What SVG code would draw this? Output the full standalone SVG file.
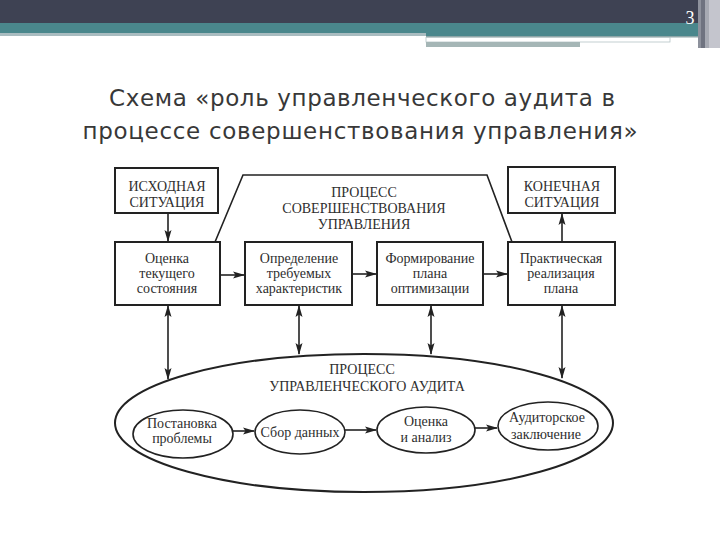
<svg xmlns="http://www.w3.org/2000/svg" width="720" height="540" viewBox="0 0 720 540">
<style>
.box{fill:none;stroke:#222;stroke-width:2}
.ln{fill:none;stroke:#222;stroke-width:1.6}
.cap{font-family:"Liberation Serif",serif;font-size:14px;fill:#2e2e2e;text-anchor:middle}
.txt{font-family:"Liberation Serif",serif;font-size:14px;fill:#2e2e2e;text-anchor:middle}
.el{font-family:"Liberation Serif",serif;font-size:14px;fill:#2e2e2e;text-anchor:middle}
.ttl{font-family:"DejaVu Sans",sans-serif;font-size:23px;fill:#383838;text-anchor:middle}
</style>
<defs>
<marker id="ah" viewBox="0 0 12 8" refX="11" refY="4" markerWidth="12" markerHeight="8" markerUnits="userSpaceOnUse" orient="auto-start-reverse">
<path d="M0,0.5 L12,4 L0,7.5 L2.5,4 z" fill="#222"/>
</marker>
</defs>
<rect width="720" height="540" fill="#fff"/>
<g id="header">
<rect x="0" y="0" width="720" height="24" fill="#3e4253"/>
<rect x="0" y="23" width="698" height="10" fill="#4a878c"/>
<rect x="0" y="33" width="426" height="3" fill="#a9bcc0"/>
<rect x="426" y="33" width="272" height="3" fill="#4a878c"/>
<rect x="426" y="36" width="272" height="1.5" fill="#8ea6a8"/>
<rect x="426" y="37.5" width="244" height="4.5" fill="#fff" stroke="#b5c4c5" stroke-width="0.8"/>
<rect x="426" y="42" width="154" height="5" fill="#a5b6b6"/>
<rect x="698" y="0" width="3" height="48" fill="#8d919c"/>
<rect x="701" y="0" width="4" height="48" fill="#6f7380"/>
<rect x="705" y="0" width="4" height="48" fill="#a7aab3"/>
<rect x="709" y="0" width="11" height="48" fill="#c4c5cd"/>
<text x="690" y="24" font-family="Liberation Serif,serif" font-size="18" fill="#fff" text-anchor="middle">3</text>
</g>
<g id="title">
<text class="ttl" x="362" y="106" textLength="506" lengthAdjust="spacing">Схема «роль управленческого аудита в</text>
<text class="ttl" x="360" y="139" textLength="555" lengthAdjust="spacing">процессе совершенствования управления»</text>
</g>
<g id="n_ishod">
<rect class="box" x="115" y="168" width="103" height="45"/>
<text class="cap" x="167" y="191">ИСХОДНАЯ</text>
<text class="cap" x="167" y="207">СИТУАЦИЯ</text>
</g>
<g id="n_proc_sov">
<polyline class="ln" points="215,242 243,175 487,175 512,242"/>
<text class="cap" x="364" y="197">ПРОЦЕСС</text>
<text class="cap" x="364" y="213">СОВЕРШЕНСТВОВАНИЯ</text>
<text class="cap" x="364" y="229">УПРАВЛЕНИЯ</text>
</g>
<g id="n_konech">
<rect class="box" x="508" y="167" width="107" height="46"/>
<text class="cap" x="562" y="191">КОНЕЧНАЯ</text>
<text class="cap" x="562" y="207">СИТУАЦИЯ</text>
</g>
<g id="n_ocenka">
<rect class="box" x="115" y="242" width="105" height="63"/>
<text class="txt" x="167" y="263">Оценка</text>
<text class="txt" x="167" y="278">текущего</text>
<text class="txt" x="167" y="293">состояния</text>
</g>
<g id="n_opred">
<rect class="box" x="245" y="242" width="107" height="63"/>
<text class="txt" x="299" y="263">Определение</text>
<text class="txt" x="299" y="278">требуемых</text>
<text class="txt" x="299" y="293">характеристик</text>
</g>
<g id="n_form">
<rect class="box" x="377" y="242" width="106" height="63"/>
<text class="txt" x="430" y="263">Формирование</text>
<text class="txt" x="430" y="278">плана</text>
<text class="txt" x="430" y="293">оптимизации</text>
</g>
<g id="n_prakt">
<rect class="box" x="508" y="242" width="107" height="63"/>
<text class="txt" x="561" y="263">Практическая</text>
<text class="txt" x="561" y="278">реализация</text>
<text class="txt" x="561" y="293">плана</text>
</g>
<g id="n_audit">
<ellipse class="box" cx="364" cy="423" rx="249" ry="69"/>
<text class="cap" x="362" y="374">ПРОЦЕСС</text>
<text class="cap" x="367" y="391">УПРАВЛЕНЧЕСКОГО АУДИТА</text>
</g>
<g id="n_post">
<ellipse class="ln" cx="183" cy="434" rx="50" ry="24"/>
<text class="el" x="182" y="428">Постановка</text>
<text class="el" x="182" y="443">проблемы</text>
</g>
<g id="n_sbor">
<ellipse class="ln" cx="300" cy="432" rx="45" ry="22"/>
<text class="el" x="300" y="437">Сбор данных</text>
</g>
<g id="n_ocan">
<ellipse class="ln" cx="426" cy="430" rx="49" ry="23"/>
<text class="el" x="426" y="426">Оценка</text>
<text class="el" x="426" y="442">и анализ</text>
</g>
<g id="n_zakl">
<ellipse class="ln" cx="548" cy="426" rx="50" ry="24"/>
<text class="el" x="547" y="422">Аудиторское</text>
<text class="el" x="546" y="439">заключение</text>
</g>
<g id="connectors" class="ln" marker-end="url(#ah)">
<line x1="168" y1="213" x2="168" y2="241"/>
<line x1="562" y1="242" x2="562" y2="214"/>
<line x1="220" y1="275" x2="244" y2="275"/>
<line x1="352" y1="274" x2="376" y2="274"/>
<line x1="483" y1="274" x2="507" y2="274"/>
<line x1="168" y1="306" x2="168" y2="379" marker-start="url(#ah)"/>
<line x1="299" y1="306" x2="299" y2="354" marker-start="url(#ah)"/>
<line x1="431" y1="306" x2="431" y2="354" marker-start="url(#ah)"/>
<line x1="562" y1="306" x2="562" y2="378" marker-start="url(#ah)"/>
<line x1="233" y1="431" x2="254" y2="431"/>
<line x1="345" y1="430" x2="376" y2="430"/>
<line x1="475" y1="428" x2="497" y2="428"/>
</g>
</svg>
